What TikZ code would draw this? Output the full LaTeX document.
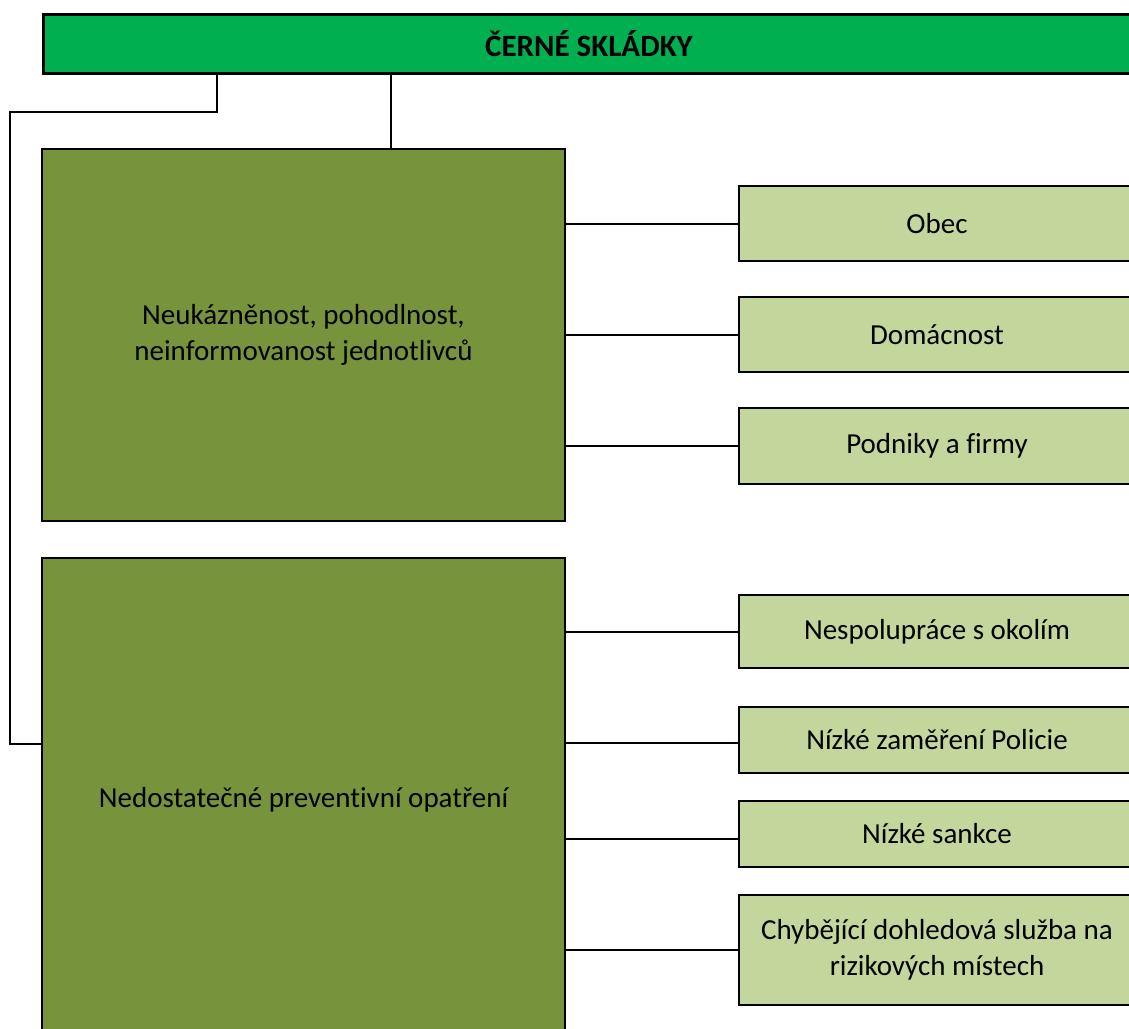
\documentclass[tikz,border=0pt]{standalone}
\usepackage{fontspec}
\setmainfont[Ligatures={NoCommon}]{Carlito}
\definecolor{topgreen}{HTML}{00B050}
\definecolor{midgreen}{HTML}{77933C}
\definecolor{lightgreen}{HTML}{C3D69B}
\begin{document}
\begin{tikzpicture}[x=1pt,y=-1pt,
  every node/.style={font=\fontsize{29}{36}\selectfont, align=center, inner sep=0pt, text=black},
  topbox/.style={draw=black, line width=3pt, fill=topgreen, font=\fontsize{31}{36}\selectfont\bfseries},
  bigbox/.style={draw=black, line width=2pt, fill=midgreen},
  smallbox/.style={draw=black, line width=2pt, fill=lightgreen, minimum width=396pt},
  conn/.style={draw=black, line width=2pt}]
\useasboundingbox (0,0) rectangle (1129,1028);
\clip (0,0) rectangle (1129,1028);
\fill[white] (0,0) rectangle (1129,1028);
% top box
\node[topbox, minimum width=1092pt, minimum height=59pt] (top) at (589,43.5) {ČERNÉ SKLÁDKY};
% big boxes
\node[bigbox, minimum width=523pt, minimum height=372pt] (b1) at (303.5,335) {Neukázněnost, pohodlnost,\\neinformovanost jednotlivců};
\node[bigbox, minimum width=523pt, minimum height=484pt] (b2) at (303.5,800) {Nedostatečné preventivní opatření};
% small boxes
\node[smallbox, minimum height=75pt] (s1) at (937,223.5) {Obec};
\node[smallbox, minimum height=75pt] (s2) at (937,334.5) {Domácnost};
\node[smallbox, minimum height=76pt] (s3) at (937,446) {Podniky a firmy};
\node[smallbox, minimum height=73pt] (s4) at (937,631.5) {Nespolupráce s okolím};
\node[smallbox, minimum height=66pt] (s5) at (937,739.5) {Nízké zaměření Policie};
\node[smallbox, minimum height=66pt] (s6) at (937,833.5) {Nízké sankce};
\node[smallbox, minimum height=110pt] (s7) at (937,950) {Chybějící dohledová služba na\\rizikových místech};
% connectors from top
\coordinate (tl) at (217,112);
\coordinate (ll) at (10,112);
\coordinate (lb) at (10,744);
\draw[conn] (top.south -| tl) -- (tl) -- (ll) -- (lb) -- (b2.west |- lb);
\draw[conn] (top.south -| 391,0) -- (b1.north -| 391,0);
% connectors to small boxes
\draw[conn] (b1.east |- s1.west) -- (s1.west);
\draw[conn] (b1.east |- s2.west) -- (s2.west);
\draw[conn] (b1.east |- s3.west) -- (s3.west);
\draw[conn] (b2.east |- s4.west) -- (s4.west);
\draw[conn] (b2.east |- 0,743) -- (s5.west |- 0,743);
\draw[conn] (b2.east |- 0,838.5) -- (s6.west |- 0,838.5);
\draw[conn] (b2.east |- s7.west) -- (s7.west);
\end{tikzpicture}
\end{document}
